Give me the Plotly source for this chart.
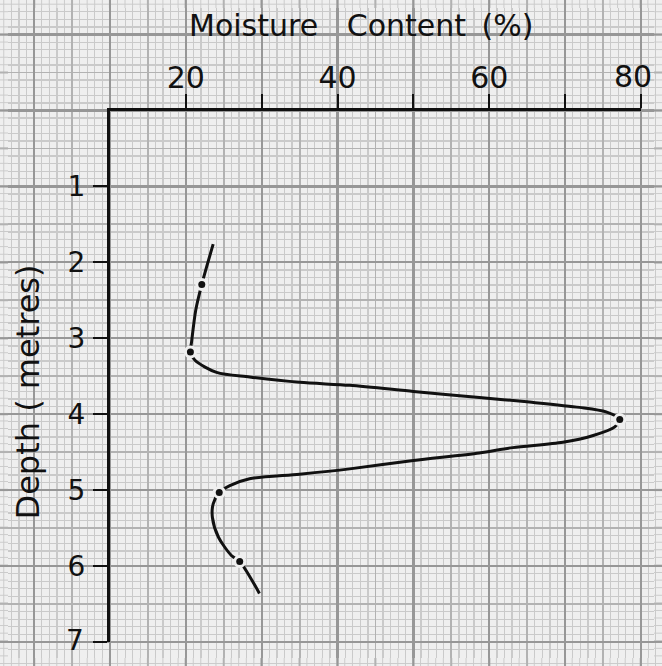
import plotly.graph_objects as go

# ---- data ----
# traced moisture-content profile (curve)
depth_curve = [1.76, 2.29, 2.63, 3.05, 3.18, 3.29, 3.45, 3.51, 3.58, 3.62, 3.70, 3.78, 3.84,
               3.91, 3.97, 4.07, 4.17, 4.28, 4.37, 4.44, 4.51, 4.61, 4.72, 4.79, 4.85, 4.94,
               5.03, 5.18, 5.36, 5.62, 5.86, 5.94, 6.36]
moisture_curve = [23.6, 22.1, 21.3, 20.75, 20.6, 21.2, 24.05, 28.4, 35.0, 41.6, 50.0, 58.7, 65.3,
                  71.9, 75.4, 77.2, 76.5, 73.7, 69.7, 63.1, 58.7, 50.0, 41.6, 35.0, 28.4, 25.8,
                  24.4, 23.6, 23.5, 24.3, 26.0, 27.1, 29.7]
# measured sample points (dots)
depth_pts = [2.29, 3.18, 4.07, 5.03, 5.94]
moisture_pts = [22.1, 20.6, 77.2, 24.4, 27.1]

x_tickvals = [20, 30, 40, 50, 60, 70, 80]
x_ticktext = ["20", "", "40", "", "60", "", ""]   # "80" is placed separately (edge of page)
y_tickvals = [1, 2, 3, 4, 5, 6, 7]
y_ticktext = ["1", "2", "3", "4", "5", "6", ""]   # "7" is placed separately (edge of page)
x_last_label = "80"
y_last_label = "7"

# the page body keeps its 8px margin, so the figure is 16px smaller than the window
OFF = 8
W, H = 662 - 2 * OFF, 666 - 2 * OFF
PAPER = "#efefef"
FINE = "#cacaca"
MED = "#b2b2b2"
HEAVY = "#979797"
INK = "#111111"
FONT = "DejaVu Sans"

# pixel geometry of the drawn axes (figure coordinates)
X0_PX, X80_PX = 110 - OFF, 641 - OFF
Y0_PX, Y7_PX = 110.5 - OFF, 642 - OFF
sx = (X80_PX - X0_PX) / 70.0
sy = (Y7_PX - Y0_PX) / 7.0
gx_range = [10 - X0_PX / sx, 10 + (W - X0_PX) / sx]
gy_range = [(H - Y0_PX) / sy, -Y0_PX / sy]

fig = go.Figure()

# empty traces to create the graph-paper subplots
fig.add_trace(go.Scatter(x=[], y=[], xaxis="x", yaxis="y", showlegend=False, hoverinfo="skip"))
fig.add_trace(go.Scatter(x=[], y=[], xaxis="x2", yaxis="y2", showlegend=False, hoverinfo="skip"))

# curve
fig.add_trace(go.Scatter(
    x=moisture_curve, y=depth_curve, xaxis="x3", yaxis="y3",
    mode="lines", line=dict(color=INK, width=3, shape="spline", smoothing=0.8),
    showlegend=False, hoverinfo="skip"))
# gaps around the dots
fig.add_trace(go.Scatter(
    x=moisture_pts, y=depth_pts, xaxis="x3", yaxis="y3",
    mode="markers", marker=dict(color=PAPER, size=13),
    showlegend=False, hoverinfo="skip"))
fig.add_trace(go.Scatter(
    x=moisture_pts, y=depth_pts, xaxis="x3", yaxis="y3",
    mode="markers", marker=dict(color=INK, size=7),
    showlegend=False, hoverinfo="skip"))

grid_common = dict(showticklabels=False, ticks="", zeroline=False, showline=False, fixedrange=True)

fig.update_layout(
    width=W, height=H,
    margin=dict(l=0, r=0, t=0, b=0),
    paper_bgcolor=PAPER, plot_bgcolor="rgba(0,0,0,0)",
    showlegend=False,
    # fine + medium graph-paper lines
    xaxis=dict(domain=[0, 1], anchor="y", range=gx_range, tick0=0, dtick=5,
               showgrid=True, gridcolor=MED, gridwidth=1.8,
               minor=dict(tick0=0, dtick=1, showgrid=True, gridcolor=FINE, gridwidth=1.3),
               **grid_common),
    yaxis=dict(domain=[0, 1], anchor="x", range=gy_range, tick0=0, dtick=0.5,
               showgrid=True, gridcolor=MED, gridwidth=1.8,
               minor=dict(tick0=0, dtick=0.1, showgrid=True, gridcolor=FINE, gridwidth=1.3),
               **grid_common),
    # heavy graph-paper lines
    xaxis2=dict(domain=[0, 1], anchor="y2", range=gx_range, tick0=0, dtick=10,
                showgrid=True, gridcolor=HEAVY, gridwidth=2.2, **grid_common),
    yaxis2=dict(domain=[0, 1], anchor="x2", range=gy_range, tick0=0, dtick=1,
                showgrid=True, gridcolor=HEAVY, gridwidth=2.2, **grid_common),
    # data axes
    xaxis3=dict(domain=[X0_PX / W, X80_PX / W], anchor="y3", side="top", range=[10, 80],
                showgrid=False, zeroline=False, showline=True, linecolor=INK, linewidth=3,
                tickmode="array", tickvals=x_tickvals, ticktext=x_ticktext,
                ticks="outside", ticklen=14, tickwidth=2, tickcolor=INK,
                tickfont=dict(family=FONT, size=30, color=INK),
                ticklabelstandoff=-6, fixedrange=True),
    yaxis3=dict(domain=[1 - Y7_PX / H, 1 - Y0_PX / H], anchor="x3", range=[7, 0],
                showgrid=False, zeroline=False, showline=True, linecolor=INK, linewidth=3,
                tickmode="array", tickvals=y_tickvals, ticktext=y_ticktext,
                ticks="outside", ticklen=14, tickwidth=2, tickcolor=INK,
                tickfont=dict(family=FONT, size=28, color=INK),
                ticklabelstandoff=2, fixedrange=True),
    annotations=[
        dict(text="Moisture\u00a0\u00a0\u00a0Content\u00a0\u2009(%)", xref="paper", yref="paper",
             x=(361 - OFF) / W, y=1 - (26 - OFF) / H, xanchor="center", yanchor="middle",
             showarrow=False, font=dict(family=FONT, size=30, color=INK)),
        dict(text="Depth ( metres)", xref="paper", yref="paper", textangle=-90,
             x=(27 - OFF) / W, y=1 - (392.5 - OFF) / H, xanchor="center", yanchor="middle",
             showarrow=False, font=dict(family=FONT, size=32, color=INK)),
        # last tick labels, kept inside the figure so the page does not grow
        dict(text=x_last_label, xref="paper", yref="paper",
             x=1, y=1 - (76.5 - OFF) / H, xanchor="right", yanchor="middle",
             showarrow=False, font=dict(family=FONT, size=30, color=INK)),
        dict(text=y_last_label, xref="paper", yref="paper",
             x=(86 - OFF) / W, y=1 - (640.5 - OFF) / H, xanchor="right", yanchor="middle",
             showarrow=False, font=dict(family=FONT, size=28, color=INK)),
    ],
)

# continue the graph paper into the 8px page margin around the figure
def _off(p, step):
    return p % step

css_bg = (
    "document.body.style.backgroundColor='{paper}';"
    "document.body.style.backgroundImage="
    "'linear-gradient(to right,{h} 2px,transparent 2px),"
    "linear-gradient(to bottom,{h} 2px,transparent 2px),"
    "linear-gradient(to right,{m} 2px,transparent 2px),"
    "linear-gradient(to bottom,{m} 2px,transparent 2px),"
    "linear-gradient(to right,{f} 1px,transparent 1px),"
    "linear-gradient(to bottom,{f} 1px,transparent 1px)';"
    "document.body.style.backgroundSize="
    "'{hx:.3f}px 100%,100% {hy:.3f}px,{mx:.3f}px 100%,100% {my:.3f}px,{fx:.3f}px 100%,100% {fy:.3f}px';"
    "document.body.style.backgroundPosition="
    "'{phx:.2f}px 0,0 {phy:.2f}px,{pmx:.2f}px 0,0 {pmy:.2f}px,{pfx:.2f}px 0,0 {pfy:.2f}px';"
).format(
    paper=PAPER, h=HEAVY, m=MED, f=FINE,
    hx=10 * sx, hy=sy, mx=5 * sx, my=0.5 * sy, fx=sx, fy=0.1 * sy,
    phx=_off(110 - 1, 10 * sx), phy=_off(110.5 - 1, sy),
    pmx=_off(110 - 1, 5 * sx), pmy=_off(110.5 - 1, 0.5 * sy),
    pfx=_off(110 - 0.5, sx), pfy=_off(110.5 - 0.5, 0.1 * sy),
)

fig.write_html(
    "out.html",
    config={"displayModeBar": False, "staticPlot": True},
    post_script=css_bg,
)
